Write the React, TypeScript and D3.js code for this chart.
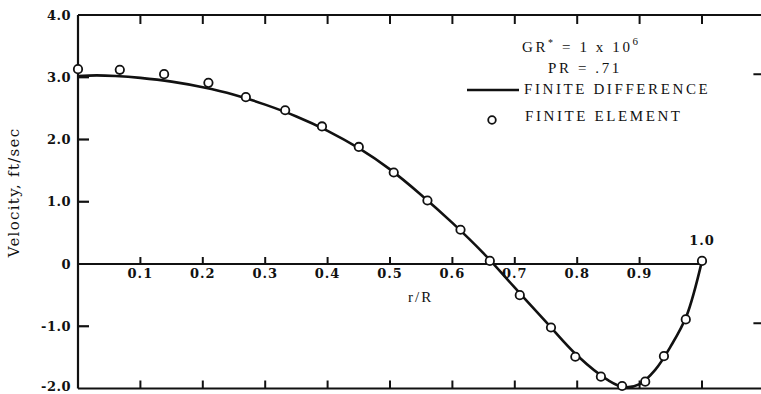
import React from "react";
import * as d3 from "d3";

// finite difference curve (r/R, velocity ft/sec)
const fdR = [0, 0.03, 0.06, 0.1, 0.15, 0.2, 0.25, 0.3, 0.35, 0.4, 0.45, 0.5, 0.55, 0.6, 0.65, 0.7, 0.75, 0.8, 0.85, 0.875, 0.9, 0.925, 0.95, 0.975, 1.0];
const fdV = [3.02, 3.03, 3.02, 2.99, 2.93, 2.84, 2.72, 2.56, 2.37, 2.14, 1.86, 1.52, 1.11, 0.66, 0.17, -0.38, -0.93, -1.47, -1.87, -1.98, -1.93, -1.7, -1.32, -0.84, 0.05];

// finite element points
const feR = [0, 0.067, 0.138, 0.209, 0.269, 0.332, 0.391, 0.45, 0.506, 0.56, 0.613, 0.66, 0.708, 0.758, 0.797, 0.838, 0.872, 0.909, 0.939, 0.974, 1.0];
const feV = [3.13, 3.12, 3.05, 2.91, 2.68, 2.47, 2.21, 1.88, 1.47, 1.02, 0.55, 0.05, -0.5, -1.02, -1.49, -1.81, -1.96, -1.89, -1.48, -0.89, 0.05];

const xTicks = [0.1, 0.2, 0.3, 0.4, 0.5, 0.6, 0.7, 0.8, 0.9, 1.0];
const yTicks = [4, 3, 2, 1, 0, -1, -2];
const yTickLabels = ["4.0", "3.0", "2.0", "1.0", "0", "-1.0", "-2.0"];
const leftTicks = [3, 2, 1, -1];
const rightTicks = [3, -1];

const W = 761;
const H = 394;
const FONT = "'DejaVu Serif', 'Liberation Serif', serif";
const LEGEND_FONT = "'Liberation Serif', 'DejaVu Serif', serif";

export default function App() {
  const x = d3.scaleLinear().domain([0, 1]).range([78, 702]);
  const y = d3.scaleLinear().domain([-2, 4]).range([388.5, 15]);
  const xMax = x(1.1);

  const line = d3
    .line<number>()
    .x((_, i) => x(fdR[i]))
    .y((d) => y(d))
    .curve(d3.curveCatmullRom.alpha(0.5));

  const ink = "#111";

  return (
    <svg width={W} height={H} style={{ position: "absolute", left: 0, top: 0, background: "#fff" }} fontFamily={FONT}>
      {/* frame */}
      <line x1={x(0)} x2={xMax} y1={y(4)} y2={y(4)} stroke={ink} strokeWidth={2} />
      <line x1={x(0)} x2={xMax} y1={y(-2)} y2={y(-2)} stroke={ink} strokeWidth={2} />
      <line x1={x(0)} x2={x(0)} y1={y(4)} y2={y(-2)} stroke={ink} strokeWidth={2.2} />
      <line x1={xMax} x2={xMax} y1={y(4)} y2={y(-2)} stroke={ink} strokeWidth={2} />
      {/* zero line */}
      <line x1={x(0)} x2={x(1)} y1={y(0)} y2={y(0)} stroke={ink} strokeWidth={2} />

      {/* x ticks */}
      {xTicks.map((t) => (
        <g key={t}>
          <line x1={x(t)} x2={x(t)} y1={y(4)} y2={y(4) + 9} stroke={ink} strokeWidth={2} />
          <line x1={x(t)} x2={x(t)} y1={y(-2)} y2={y(-2) - 8} stroke={ink} strokeWidth={2} />
          {t < 1 && <line x1={x(t)} x2={x(t)} y1={y(0)} y2={y(0) - 7} stroke={ink} strokeWidth={2} />}
          {t < 1 && (
            <text x={x(t)} y={y(0) + 14} textAnchor="middle" fontSize={13} letterSpacing={1} fontWeight="bold" fill={ink}>
              {t.toFixed(1)}
            </text>
          )}
        </g>
      ))}
      <text x={x(1)} y={y(0) - 19} textAnchor="middle" fontSize={13} letterSpacing={1} fontWeight="bold" fill={ink}>
        1.0
      </text>

      {/* y ticks */}
      {leftTicks.map((t) => (
        <line key={t} x1={x(0)} x2={x(0) + 11} y1={y(t)} y2={y(t)} stroke={ink} strokeWidth={2.2} />
      ))}
      {rightTicks.map((t) => (
        <line key={t} x1={xMax} x2={xMax - 11} y1={y(t) - 3} y2={y(t) - 3} stroke={ink} strokeWidth={2} />
      ))}
      {yTicks.map((t, i) => (
        <text key={t} x={x(0) - 7} y={Math.min(y(t), 386)} dy="0.35em" textAnchor="end" fontSize={13} letterSpacing={0.5} fontWeight="bold" fill={ink}>
          {yTickLabels[i]}
        </text>
      ))}

      {/* axis titles */}
      <text x={408} y={302} fontSize={15} letterSpacing={2} fill={ink} fontFamily={LEGEND_FONT}>
        r/R
      </text>
      <text transform={`translate(19, ${y(1.15)}) rotate(-90)`} textAnchor="middle" fontSize={15} letterSpacing={1.3} fill={ink}>
        Velocity, ft/sec
      </text>

      {/* finite difference curve */}
      <path d={line(fdV) ?? ""} fill="none" stroke={ink} strokeWidth={2.6} />

      {/* finite element points */}
      {feR.map((r, i) => (
        <circle key={i} cx={x(r)} cy={y(feV[i])} r={4.2} fill="#fff" stroke={ink} strokeWidth={1.8} />
      ))}

      {/* legend */}
      <g fill={ink} fontSize={15} fontFamily={LEGEND_FONT} letterSpacing={2.6}>
        <text x={522} y={52}>
          GR
          <tspan dy={-6} fontSize={10}>*</tspan>
          <tspan dy={6}> = 1 x 10</tspan>
          <tspan dy={-7} fontSize={11}>6</tspan>
        </text>
        <text x={548} y={73}>PR = .71</text>
        <line x1={467} x2={519} y1={90} y2={90} stroke={ink} strokeWidth={2.6} />
        <text x={524} y={94}>FINITE DIFFERENCE</text>
        <circle cx={492} cy={120} r={3.8} fill="#fff" stroke={ink} strokeWidth={1.8} />
        <text x={525} y={121}>FINITE ELEMENT</text>
      </g>
    </svg>
  );
}
